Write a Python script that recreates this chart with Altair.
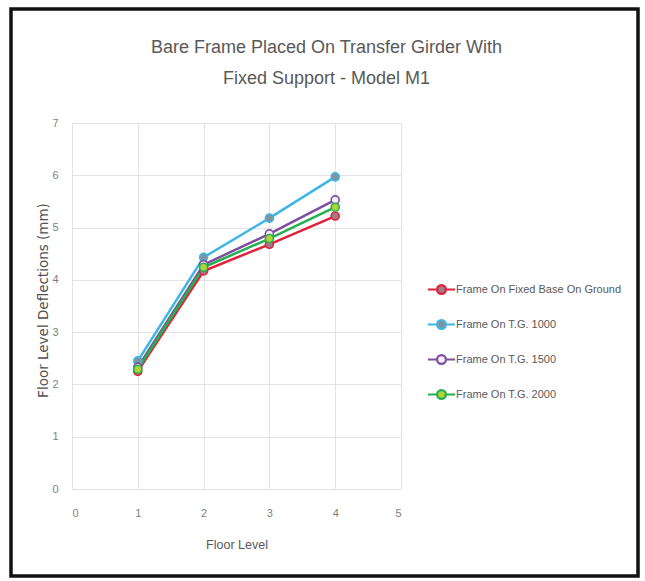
import altair as alt
import pandas as pd

# Floor levels and deflections (mm) for each support case
floors = [1, 2, 3, 4]
series_names = [
    "Frame On Fixed Base On Ground",
    "Frame On T.G. 1000",
    "Frame On T.G. 1500",
    "Frame On T.G. 2000",
]
ground = [2.25, 4.17, 4.68, 5.22]
tg_1000 = [2.45, 4.43, 5.18, 5.97]
tg_1500 = [2.33, 4.29, 4.88, 5.53]
tg_2000 = [2.29, 4.24, 4.79, 5.39]

line_colors = ["#e3203b", "#3db5e6", "#7e4ea0", "#25b04f"]
marker_fills = ["#a07c8a", "#84929b", "#f3eef7", "#b5d334"]

rows = []
for order, (name, vals) in enumerate(zip(series_names, [ground, tg_1000, tg_1500, tg_2000])):
    for f, v in zip(floors, vals):
        rows.append({"Floor": f, "Deflection": v, "Series": name, "order": order})
df = pd.DataFrame(rows)

font = "Liberation Sans"
grey = "#7f7f7f"

stroke_scale = alt.Scale(domain=series_names, range=line_colors)
fill_scale = alt.Scale(domain=series_names, range=marker_fills)

# line + circle legend glyph
glyph = (
    "M-3.4,0H-1.1 M1.1,0H3.4 "
    "M-1.1,0A1.1,1.1 0 1,1 1.1,0A1.1,1.1 0 1,1 -1.1,0Z"
)
legend = alt.Legend(
    title=None,
    orient="none",
    legendX=364,
    legendY=161,
    symbolType=glyph,
    symbolSize=64,
    symbolStrokeWidth=2.2,
    labelOffset=9,
    rowPadding=16,
    padding=0,
    labelFont=font,
    labelFontSize=11,
    labelColor="#595959",
    labelLimit=300,
)

x_enc = alt.X(
    "Floor:Q",
    scale=alt.Scale(domain=[0, 5], nice=False),
    axis=alt.Axis(values=[0, 1, 2, 3, 4, 5], title="Floor Level", format="d"),
)
y_enc = alt.Y(
    "Deflection:Q",
    scale=alt.Scale(domain=[0, 7], nice=False),
    axis=alt.Axis(values=[0, 1, 2, 3, 4, 5, 6, 7], format="d",
                  title="Floor Level Deflections (mm)", titleY=177),
)

lines = (
    alt.Chart(df)
    .mark_line(strokeWidth=2.5)
    .encode(
        x=x_enc,
        y=y_enc,
        stroke=alt.Stroke("Series:N", scale=stroke_scale, legend=legend),
        detail="Series:N",
        order="Floor:Q",
    )
)

points = (
    alt.Chart(df)
    .mark_point(filled=True, shape="circle", size=64, strokeWidth=1.6, opacity=1)
    .encode(
        x="Floor:Q",
        y="Deflection:Q",
        stroke=alt.Stroke("Series:N", scale=stroke_scale, legend=legend),
        fill=alt.Fill("Series:N", scale=fill_scale, legend=legend),
        order="order:Q",
    )
)

# outer frame around the chart
frame = (
    alt.Chart(pd.DataFrame({"k": [0]}))
    .mark_rect(fill=None, stroke="#111111", strokeWidth=3.5, clip=False)
    .encode(
        x=alt.value(-61),
        x2=alt.value(566),
        y=alt.value(-114),
        y2=alt.value(453),
    )
)

chart = (
    alt.layer(lines, points, frame)
    .properties(
        width=329,
        height=366,
        padding={"left": 72, "top": 123, "right": 244, "bottom": 92},
        autosize=alt.AutoSizeParams(type="none"),
        background="white",
        title=alt.TitleParams(
            text=["Bare Frame Placed On Transfer Girder With", "Fixed Support - Model M1"],
            font=font,
            fontSize=18,
            fontWeight="normal",
            color="#595959",
            anchor="middle",
            dx=90,
            offset=-81,
            lineHeight=31,
        ),
    )
    .configure_view(stroke=None)
    .configure_axis(
        grid=True,
        gridColor="#e3e3e3",
        gridWidth=1,
        ticks=False,
        domain=False,
        labelFont=font,
        labelFontSize=11,
        labelColor=grey,
        titleFont=font,
        titleFontWeight="normal",
        titleColor="#595959",
    )
    .configure_axisX(labelPadding=18, titlePadding=20, titleFontSize=12.5)
    .configure_axisY(
        labelPadding=14,
        titlePadding=1,
        titleFont="DejaVu Sans",
        titleFontSize=13.5,
        titleColor="#505050",
    )
)

chart.save("out.html", embed_options={"renderer": "svg", "actions": False})
